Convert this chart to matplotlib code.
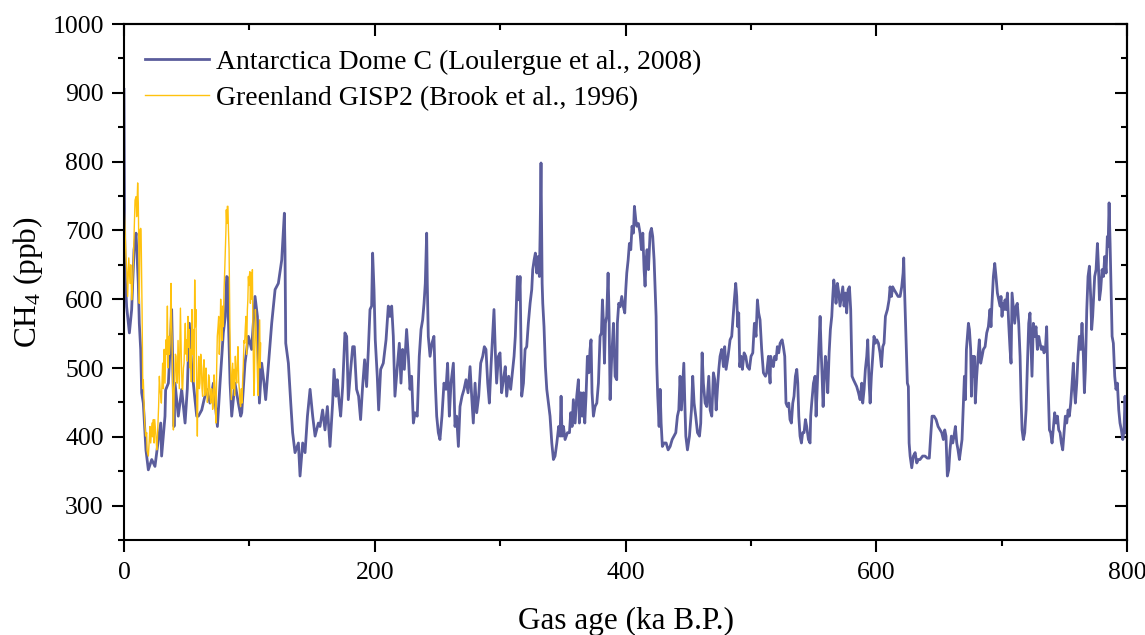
import matplotlib

matplotlib.use("Agg")
import matplotlib.pyplot as plt  # noqa: E402
from matplotlib.ticker import MultipleLocator, NullFormatter  # noqa: E402

plt.rcParams["font.family"] = ["Liberation Serif", "DejaVu Serif"]
plt.rcParams["mathtext.fontset"] = "custom"
plt.rcParams["mathtext.rm"] = "Liberation Serif"
plt.rcParams["mathtext.it"] = "Liberation Serif:italic"

BLUE = "#5B5D9C"
GOLD = "#FFC20E"

# Antarctica Dome C, gas age (ka B.P.) / CH4 (ppb)
dome_age = [
    0.0, 0.5, 1.0, 2.1, 4.3, 6.1, 8.0, 9.6, 11.4, 12.2, 13.3, 14.1, 15.4, 17.5,
    19.4, 22.1, 24.7, 27.4, 29.3, 30.0, 32.7, 33.2, 35.4, 36.7, 38.0, 39.9, 40.7,
    43.3, 46.0, 48.7, 50.5, 52.1, 54.0, 56.6, 58.0, 59.3, 62.0, 64.0, 66.0, 68.6,
    71.3, 74.5, 76.6, 79.2, 80.8, 81.9, 82.9, 83.2, 84.6, 85.9, 88.5, 91.2, 93.1,
    93.9, 96.5, 99.2, 101.8, 104.5, 106.4, 108.0, 109.8, 111.7, 113.0, 115.1,
    117.8, 120.5, 123.1, 125.8, 127.9, 128.4, 129.0, 131.1, 133.0, 134.5, 136.4,
    139.1, 140.4, 142.5, 144.4, 146.3, 148.4, 150.5, 152.4, 155.0,
    156.3, 158.4, 160.3, 162.2, 164.3, 166.4, 167.5, 169.1, 170.1, 171.7, 172.8,
    174.4, 176.2, 177.6, 178.9, 180.8, 182.4, 183.7, 185.5, 187.1, 188.7, 190.3,
    191.9, 193.5, 194.9, 196.2, 197.5, 198.3, 199.4, 200.4, 202.0, 203.1, 204.7,
    206.8, 209.0, 210.8, 212.1, 213.5, 214.8, 216.1, 218.0, 219.6, 220.9, 222.2,
    223.6, 225.4, 226.8, 228.1, 229.4, 230.8, 232.1, 233.9, 235.5, 236.9, 238.2,
    239.3, 240.3, 241.4, 241.9, 242.7, 244.1, 245.6, 247.2, 248.3, 249.4, 250.7,
    252.0, 253.6, 255.2, 256.8, 258.1, 259.5, 260.8, 262.7, 264.0, 265.3, 266.7,
    268.0, 269.6, 271.2, 272.8, 274.4, 276.0, 277.3, 278.6, 280.0, 281.3, 282.9,
    284.5, 286.1, 287.4, 288.7, 290.1, 291.4, 292.7, 294.0, 295.1, 296.2, 297.2,
    298.6, 299.9, 301.2, 302.6, 304.1, 305.2, 306.8, 308.4, 310.0, 311.1, 312.1,
    313.7, 315.0,
    315.9, 317.2, 318.6, 319.9, 321.2, 322.5, 323.9, 325.2, 326.0, 327.1, 328.1,
    329.2, 330.3, 331.3, 331.9, 332.6, 333.5, 334.0, 335.0, 336.1, 337.2, 338.5,
    339.8, 341.2, 342.5, 343.8, 345.2, 346.7, 347.8, 348.6, 349.4, 350.5, 351.8,
    353.7, 355.3, 356.3, 357.4, 358.4, 359.8, 361.1, 362.4, 363.2, 364.3, 365.4,
    366.4, 367.5, 368.5, 369.6, 370.7, 371.7, 372.5, 373.3, 374.4, 375.7, 377.1,
    378.4, 379.7, 380.8, 381.6, 382.4, 383.2, 384.0, 385.0, 386.1, 386.9, 387.7,
    389.0, 390.4, 391.7, 393.0, 393.5, 394.6, 395.7, 397.0, 398.3, 399.4, 400.2,
    401.0, 402.1, 403.1, 404.2, 405.2, 406.3, 407.1, 408.2, 409.0, 410.3, 411.6,
    412.7, 413.8, 414.8, 415.6, 416.4, 417.2, 418.3, 419.6, 420.7, 421.7, 422.8,
    423.6, 424.4, 424.9, 425.7, 426.8, 427.6, 428.4, 429.4, 430.8, 432.4, 434.0,
    435.6, 437.2, 438.7, 440.1, 441.4, 442.5, 443.5, 444.6, 445.7, 446.5, 447.3,
    448.1, 449.4, 451.0, 452.6, 453.6, 454.7, 456.0, 457.4, 459.0, 460.0, 461.1,
    462.1, 463.5, 464.8, 466.4, 467.5, 468.8, 470.1, 471.2, 472.3, 473.3, 474.4,
    475.4, 476.7, 478.1, 479.1, 480.2, 481.8, 483.4, 484.7, 486.0, 486.8, 487.9,
    488.7, 489.5, 490.3, 491.1, 492.2, 493.2, 494.6, 495.9, 497.2, 498.8, 500.1,
    501.5, 502.8, 504.1, 505.2, 506.2, 507.3, 508.6, 510.0, 511.6, 512.6, 514.0,
    515.3, 515.8, 516.9, 517.9, 519.0, 520.1, 521.1, 522.2, 523.3, 524.9, 525.9,
    527.0, 528.0, 529.1, 530.2, 531.2, 532.3, 533.4, 534.4, 535.5, 536.6, 537.4,
    538.2, 539.2, 540.3, 541.3, 542.4, 543.5, 544.5, 545.9, 547.2, 547.7, 548.5,
    549.9, 551.2, 552.0, 553.0, 554.1, 555.2, 556.0, 556.8, 557.6, 558.4, 559.4,
    560.5, 561.3, 562.4, 563.4, 564.5, 565.3, 566.1, 567.1, 567.9, 569.0, 570.1,
    571.1, 572.2, 573.3, 574.3, 575.4, 576.4, 577.5, 578.6, 579.6, 580.7, 581.8,
    583.1, 584.4, 585.8, 587.1, 588.4, 589.2, 590.3, 591.3, 592.4, 593.2, 594.3,
    595.1, 596.1, 597.2, 598.2, 599.3, 600.4, 601.7, 603.0, 604.1, 605.2, 606.2,
    607.3, 608.9, 610.2, 611.0, 612.1, 613.1, 614.2, 615.8, 617.4, 619.0, 620.3,
    621.4, 621.9, 622.4, 623.2, 624.0, 624.8, 625.6, 626.2, 627.0, 628.3, 629.6,
    631.0, 632.3, 633.6,
    634.9, 637.0, 638.9, 640.7, 642.3, 643.4, 644.5, 646.1, 647.7, 649.3, 650.9,
    652.2, 653.5, 654.6, 655.6, 656.7, 657.8, 658.8, 659.9, 661.0, 662.0, 663.1,
    664.2, 665.2, 666.3, 667.3, 668.4, 669.5, 670.3, 671.1, 671.9, 672.7, 673.5,
    674.3, 675.3, 675.9, 676.6, 677.4, 678.2, 679.0, 680.1, 681.2, 682.2, 683.3,
    684.4, 685.4, 686.8, 688.1, 689.4, 690.7, 691.5, 692.3, 693.4, 694.5, 695.5,
    696.6, 697.7, 698.7, 699.5, 700.3, 701.1, 701.9, 702.7, 703.5, 704.6, 705.6,
    706.7, 707.5, 708.3, 709.4, 710.4, 711.5, 712.5, 713.6, 714.7, 715.5, 716.3,
    717.3, 718.4, 719.5, 720.5, 721.6, 722.6, 723.4, 724.2, 725.3, 726.4, 727.4,
    728.5, 729.6, 730.6, 731.7, 732.8, 733.8, 734.9, 735.9, 737.0, 738.1, 739.1,
    740.2, 741.3, 742.3, 743.4, 744.5, 745.5, 746.6, 747.6, 748.7, 749.8, 750.8,
    751.9, 753.0, 754.0, 755.1, 756.2, 757.2, 758.0, 758.8, 759.9, 760.9, 762.0,
    763.1, 764.1, 765.2, 766.0, 766.8, 767.9, 768.9, 770.0, 771.0, 771.8, 772.6,
    773.4, 774.2, 775.3, 776.4, 777.2, 778.0, 779.0, 780.1, 781.2, 782.2, 783.3,
    784.3, 784.9, 785.7, 786.5, 787.3, 788.1, 789.1, 790.2, 791.2, 792.3, 793.4,
    794.4, 795.5, 796.6, 797.6, 798.4, 799.2,
]
dome_ch4 = [
    905, 700, 633, 589, 551, 585, 672, 696, 623, 565, 527, 464, 449, 381,
    352, 367, 357, 396, 420, 372, 430, 468, 478, 527, 585, 415, 478,
    430, 469, 420, 470, 565, 502, 454, 430, 430, 439, 455, 469, 449,
    478, 415, 478, 551, 575, 633, 631, 575, 478, 430, 478, 449, 430,
    435, 507, 546, 527, 604, 575, 449, 507, 478, 454, 502,
    565, 614, 623, 657, 725, 672, 536, 507, 449, 406, 377,
    391, 343, 391, 377, 430, 469, 430, 401, 420,
    415, 439, 410, 444, 386, 449, 498, 459, 483, 449, 430,
    473, 551, 546, 454, 498, 531, 531, 469, 459, 425, 473,
    512, 473, 527, 585, 590, 667, 614, 541, 488, 439, 498,
    507, 541, 590, 575, 590, 546, 459, 502, 536, 478, 527,
    498, 556, 517, 469, 488, 420, 435, 430, 517, 556, 570,
    594, 623, 696, 623, 546, 517, 536, 546, 478, 430, 406,
    396, 430, 478, 469, 507, 430, 478, 507, 415, 430, 386,
    444, 459, 469, 483, 464, 502, 459, 420, 478, 435, 459,
    507, 517, 531, 527, 478, 449, 502, 546, 585, 522, 478,
    517, 522, 464, 483, 502, 459, 488, 469, 498, 517, 546,
    633, 599,
    633, 459, 478, 527, 531, 565, 594, 614, 643, 657, 667,
    638, 662, 633, 696, 798, 623, 594, 560, 502, 469, 449,
    430, 391, 367, 372, 391, 415, 401, 459, 401, 415, 396,
    406, 406, 435, 415, 454, 420, 459, 483, 420, 464, 430,
    464, 420, 459, 517, 493, 527, 541, 464, 430, 444, 449,
    478, 546, 551, 599, 565, 507, 565, 575, 638, 575, 454,
    517, 565, 488, 483, 565, 594, 589, 604, 589, 580, 614,
    638, 657, 681, 672, 706, 696, 735, 715, 706, 710, 696,
    672, 696, 643, 619, 657, 672, 643, 696, 703, 691, 657,
    614, 575, 507, 459, 415, 469, 420, 386, 391, 391, 381,
    386, 396, 401, 406, 430, 439, 488, 439, 478, 507, 449,
    401, 381, 401, 439, 488, 449, 430, 406, 401, 420, 522,
    478, 449, 444, 488, 439, 430, 493, 483, 439, 469, 498,
    517, 527, 502, 531, 498, 517, 541, 546, 580, 599, 623,
    604, 560, 580, 502, 517, 498, 522, 517, 502, 498, 517,
    522, 565, 546, 599, 580, 570, 527, 493, 488, 493, 517,
    478, 517, 507, 502, 517, 512, 531, 522, 536, 541, 531,
    517, 449, 444, 449, 425, 420, 449, 459, 488, 498, 478,
    430, 401, 391, 406, 406, 425, 415, 396, 391, 430, 449,
    478, 488, 430, 478, 527, 575, 527, 488, 444, 478, 517,
    498, 464, 522, 556, 575, 604, 628, 614, 594, 623, 609,
    590, 604, 618, 590, 609, 580, 614, 618, 585, 488, 483,
    478, 473, 464, 454, 478, 449, 469, 498, 517, 541, 478,
    449, 488, 517, 546, 536, 541, 536, 522, 502, 531, 536,
    575, 585, 599, 618, 604, 618, 614, 609, 604, 604, 618,
    638, 660, 623, 575, 527, 478, 473, 391, 372, 355, 372,
    377, 362, 367,
    367, 372, 372, 369, 369, 401, 430, 430, 425, 415, 410,
    406, 396, 410, 401, 343, 352, 381, 401, 391, 401, 415,
    391, 381, 367, 381, 396, 449, 488, 454, 527, 546, 565,
    556, 527, 459, 517, 488, 517, 449, 488, 517, 541, 507,
    517, 527, 531, 551, 560, 585, 560, 594, 633, 652, 633,
    609, 599, 590, 604, 575, 594, 585, 599, 585, 609, 565,
    527, 507, 609, 585, 565, 590, 594, 565, 517, 454, 410,
    396, 406, 439, 502, 565, 580, 536, 488, 565, 546, 560,
    527, 546, 536, 527, 531, 522, 527, 560, 478, 410, 406,
    391, 415, 435, 420, 430, 410, 406, 391, 381, 406, 430,
    420, 439, 430, 449, 478, 507, 469, 449, 478, 517, 546,
    527, 565, 517, 464, 498, 585, 633, 648, 604, 556, 575,
    604, 633, 643, 681, 648, 599, 614, 643, 633, 662, 638,
    691, 677, 740, 681, 614, 546, 536, 488, 469, 478, 439,
    420, 410, 396, 410, 459, 406,
]

# Greenland GISP2, gas age (ka B.P.) / CH4 (ppb)
gisp_age = [
    0.0, 0.8, 1.6, 2.3, 2.9, 3.8, 4.8, 5.4, 6.1, 6.8, 7.4, 8.1, 8.8, 9.6, 10.1,
    10.9, 11.4, 11.7, 12.2, 12.8, 13.3, 13.6, 14.0, 14.4, 15.0, 15.4, 16.0, 16.5,
    17.3, 18.1, 18.4, 19.4, 20.2, 20.7, 21.3, 22.3, 22.8, 23.4, 24.0, 24.5, 25.5,
    26.1, 26.6, 27.6, 28.2, 28.7, 29.3, 29.8, 30.3, 30.8, 31.4, 31.9, 32.2, 32.7,
    33.5, 34.0, 34.6, 35.1, 35.6, 36.2, 36.7, 37.5, 38.0, 38.3, 38.9, 39.4, 40.0,
    40.4, 41.0, 41.5, 42.0, 42.5, 43.1, 43.6, 44.1, 45.0, 45.7, 46.3, 46.8, 47.4,
    47.9, 48.4, 48.9, 49.5, 50.0, 50.5, 51.0, 51.6, 52.1, 52.7, 53.2, 53.7, 54.2,
    54.8, 55.3, 55.8, 56.4, 56.9, 57.4, 58.0, 58.5, 59.0, 59.6, 60.1, 60.6, 61.2,
    61.7, 62.2, 62.7, 63.3, 63.8, 64.4, 64.9, 65.4, 65.9, 66.5, 67.0, 67.5, 68.1,
    68.6, 69.1, 69.7, 70.2, 70.7, 71.3, 71.8, 72.3, 72.9, 73.4, 73.9, 74.4, 75.0,
    75.5, 76.0, 76.6, 77.1, 77.6, 78.2, 78.7, 79.2, 79.8, 80.3, 80.8, 81.3, 81.6,
    82.0, 82.4, 82.9, 83.3, 83.8, 84.2, 84.6, 85.1, 85.6, 86.1, 86.7, 87.2, 87.7,
    88.2, 88.8, 89.3, 89.9, 90.4, 90.9, 91.5, 92.0, 92.5, 93.0, 93.6, 94.1, 94.6,
    95.2, 95.7, 96.2, 96.8, 97.3, 97.8, 98.4, 98.8, 99.2, 99.6, 99.9, 100.4,
    100.8, 101.2, 101.6, 102.0, 102.4, 102.8, 103.2, 103.6, 104.0, 104.4, 104.8,
    105.3, 105.8, 106.2, 106.6, 107.0, 107.4, 107.8, 108.2, 108.6, 109.0,
]
gisp_ch4 = [
    744, 700, 662, 640, 604, 660, 623, 650, 599, 620, 652, 700, 744, 749, 720,
    769, 740, 696, 594, 701, 703, 701, 640, 585, 470, 483, 450, 420,
    401, 406, 380, 372, 396, 415, 391, 420, 400, 425, 391, 425, 401,
    381, 396, 444, 488, 470, 460, 449, 480, 507, 470, 527, 527, 478,
    541, 520, 590, 500, 546, 520, 536, 623, 560, 546, 460, 410, 470,
    478, 520, 517, 480, 478, 540, 507, 470, 587, 517, 470, 469, 500,
    507, 540, 565, 520, 541, 510, 575, 530, 556, 500, 527, 480, 585,
    520, 556, 480, 628, 560, 585, 460, 401, 480, 517, 470, 478, 520,
    507, 470, 459, 500, 512, 460, 478, 500, 469, 450, 459, 490, 483,
    460, 449, 470, 469, 440, 449, 490, 478, 440, 420, 500, 546, 560,
    575, 520, 546, 600, 575, 540, 590, 560, 614, 640, 672, 700, 730,
    710, 735, 735, 700, 672, 600, 536, 500, 454, 480, 507, 470, 498,
    460, 517, 490, 478, 510, 531, 480, 469, 450, 444, 470, 449, 480,
    507, 540, 536, 560, 575, 520, 585, 600, 633, 620, 633, 640,
    594, 620, 638, 600, 643, 560, 507, 460, 478, 540, 585,
    560, 527, 500, 478, 460, 507, 540, 570, 500, 536,
]

fig = plt.figure(figsize=(11.45, 6.35), dpi=100)
ax = fig.add_axes([0.1083, 0.1496, 0.876, 0.8126])

ax.plot(dome_age, dome_ch4, color=BLUE, lw=2.0,
        label="Antarctica Dome C (Loulergue et al., 2008)")
ax.plot(gisp_age, gisp_ch4, color=GOLD, lw=1.0,
        label="Greenland GISP2 (Brook et al., 1996)")

ax.set_xlim(0, 800)
ax.set_ylim(250, 1000)
ax.set_xticks([0, 200, 400, 600, 800])
ax.set_yticks(range(300, 1001, 100))
ax.xaxis.set_minor_locator(MultipleLocator(100))
ax.yaxis.set_minor_locator(MultipleLocator(50))

for sp in ax.spines.values():
    sp.set_linewidth(1.5)
ax.tick_params(which="major", direction="out", length=8.5, width=1.5,
               labelsize=18.5, pad=6, top=False, right=False)
ax.tick_params(which="minor", direction="out", length=4.5, width=1.5,
               top=False, right=False)
ax.tick_params(axis="x", which="major", pad=7)

# mirrored inward ticks on top and right
secx = ax.secondary_xaxis("top")
secx.set_xticks([0, 200, 400, 600, 800])
secx.xaxis.set_minor_locator(MultipleLocator(100))
secx.xaxis.set_major_formatter(NullFormatter())
secx.tick_params(which="major", direction="in", length=8.5, width=1.5)
secx.tick_params(which="minor", direction="in", length=4.5, width=1.5)
secx.spines["top"].set_linewidth(1.5)

secy = ax.secondary_yaxis("right")
secy.set_yticks(range(300, 1001, 100))
secy.yaxis.set_minor_locator(MultipleLocator(50))
secy.yaxis.set_major_formatter(NullFormatter())
secy.tick_params(which="major", direction="in", length=8.5, width=1.5)
secy.tick_params(which="minor", direction="in", length=4.5, width=1.5)
secy.spines["right"].set_linewidth(1.5)

ax.set_xlabel("Gas age (ka B.P.)", fontsize=22.5, labelpad=17)
ax.set_ylabel("CH$_4$ (ppb)", fontsize=22.5, labelpad=5)

ax.legend(loc="upper left", bbox_to_anchor=(0.021, 0.951), frameon=False,
          fontsize=20, handlelength=2.3, handletextpad=0.25, labelspacing=0.39,
          borderpad=0, borderaxespad=0)

fig.savefig("out.png", dpi=100, facecolor="white")
